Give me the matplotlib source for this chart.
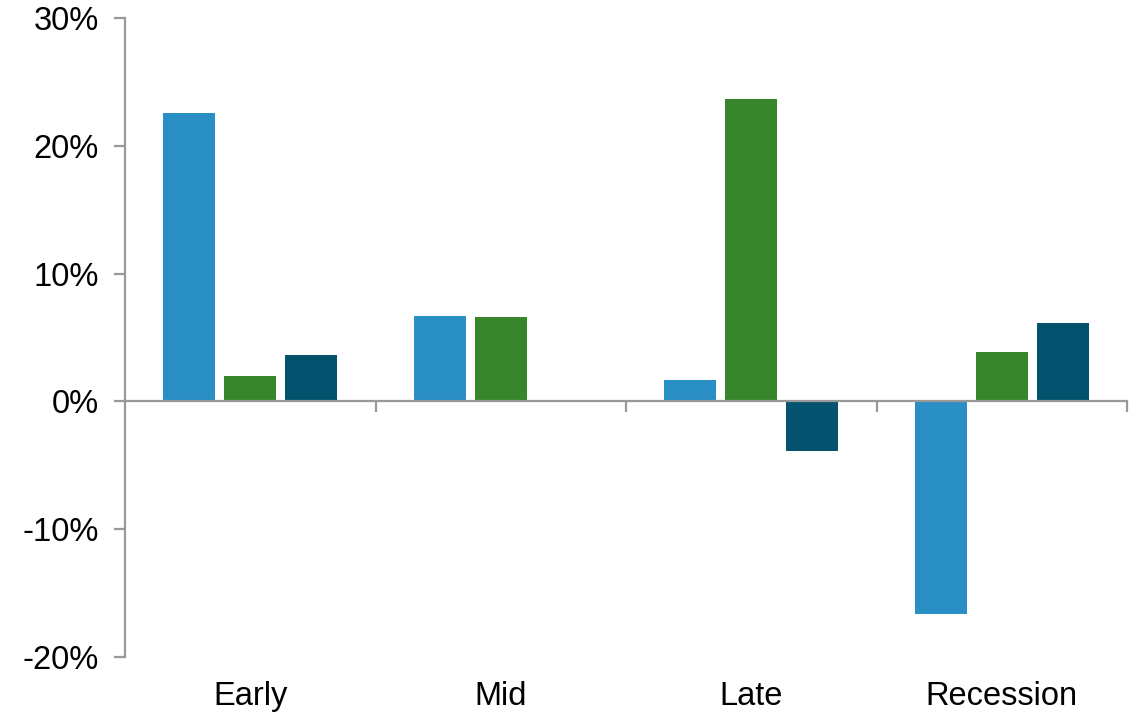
import matplotlib
matplotlib.use("Agg")
import matplotlib.pyplot as plt
import matplotlib.transforms as mtransforms
import numpy as np

plt.rcParams['font.family'] = ['Liberation Sans', 'DejaVu Sans']

categories = ["Early", "Mid", "Late", "Recession"]
series1 = [22.6, 6.65, 1.65, -16.6]
series2 = [1.95, 6.6, 23.65, 3.85]
series3 = [3.6, 0.1, -3.9, 6.1]
colors = ["#2A8FC4", "#37862B", "#03536E"]
yticks = [-20, -10, 0, 10, 20, 30]

fig = plt.figure(figsize=(11.37, 7.12), dpi=100)
ax = fig.add_axes([125/1137, 1-657/712, (1127-125)/1137, (657-18)/712])

x = np.arange(len(categories)) + 0.5
w = 0.208
off = 0.244
for i, (vals, c) in enumerate(zip([series1, series2, series3], colors)):
    ax.bar(x + (i-1)*off, vals, width=w, color=c, zorder=2)

ax.set_xlim(0, 4)
ax.set_ylim(-20, 30)
ax.set_yticks(yticks)
ax.set_yticklabels([f"{v}%" for v in yticks], fontsize=23.5)
for s in ['top', 'right']:
    ax.spines[s].set_visible(False)
ax.spines['bottom'].set_position(('data', 0))
for s in ['left', 'bottom']:
    ax.spines[s].set_color('#999999')
    ax.spines[s].set_linewidth(1.6)
ax.spines['bottom'].set_zorder(3)
ax.set_xticks([1, 2, 3, 4])
ax.set_xticklabels([])
ax.tick_params(axis='x', direction='out', length=8, width=1.6, color='#999999')
ax.tick_params(axis='y', direction='out', length=8, width=1.6, color='#999999', pad=11)

trans = mtransforms.blended_transform_factory(ax.transData, ax.transAxes)
for xi, lab in zip(x, categories):
    ax.text(xi, -0.062, lab, transform=trans, ha='center', va='center', fontsize=23.5)

fig.savefig("out.png", dpi=100)
